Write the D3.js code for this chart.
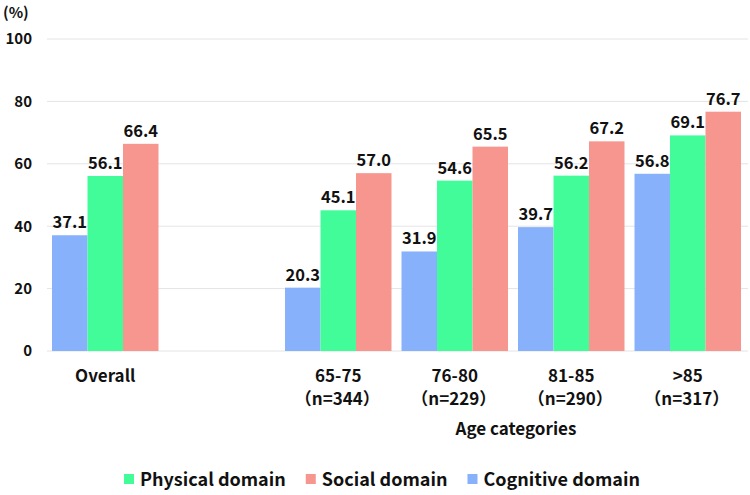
<!DOCTYPE html>
<html>
<head>
<meta charset="utf-8">
<script src="https://cdn.jsdelivr.net/npm/d3@7/dist/d3.min.js"></script>
<style>
  html, body { margin: 0; padding: 0; background: #fff; }
  svg text { font-family: "Noto Sans CJK JP", "Noto Sans", sans-serif; font-weight: bold; fill: #111; }
</style>
</head>
<body>
<svg id="chart" width="750" height="495"></svg>
<script>
const categories = ["Overall", "", "65-75", "76-80", "81-85", ">85"];
const subLabels = ["", "", "（n=344）", "（n=229）", "（n=290）", "（n=317）"];
const seriesNames = ["Cognitive domain", "Physical domain", "Social domain"];
const cognitive = [37.1, null, 20.3, 31.9, 39.7, 56.8];
const physical = [56.1, null, 45.1, 54.6, 56.2, 69.1];
const social = [66.4, null, 57.0, 65.5, 67.2, 76.7];
const yTicks = [0, 20, 40, 60, 80, 100];
const legendOrder = ["Physical domain", "Social domain", "Cognitive domain"];
const colors = {"Cognitive domain": "#87B1FA", "Physical domain": "#42FC9A", "Social domain": "#F7968F"};

const series = [cognitive, physical, social];
const svg = d3.select("#chart");
const margin = {left: 47, right: 4};
const W = 750;

const x = d3.scaleBand().domain(d3.range(categories.length)).range([margin.left, W - margin.right]).paddingInner(0.086).paddingOuter(0.043);
const xs = d3.scaleBand().domain(seriesNames).range([0, x.bandwidth()]);
const y = d3.scaleLinear().domain([0, 100]).range([351, 39]);

// grid
const gy = svg.append("g");
gy.selectAll("line").data(yTicks).join("line")
  .attr("x1", margin.left).attr("x2", 748)
  .attr("y1", d => y(d)).attr("y2", d => y(d))
  .attr("stroke", "#e4e4e4").attr("stroke-width", 1);

// y axis labels
const yAxis = d3.axisLeft(y).tickValues(yTicks).tickSize(0).tickPadding(0);
const ya = svg.append("g").attr("transform", "translate(32,0)").call(yAxis);
ya.select(".domain").remove();
ya.selectAll("text").style("font-size", "15px").attr("fill", "#111")
  .style("font-family", "'Noto Sans CJK JP', sans-serif").style("font-weight", "bold");

svg.append("text").attr("x", 3).attr("y", 18).style("font-size", "15px").text("(%)");

// bars
series.forEach((vals, si) => {
  const name = seriesNames[si];
  const g = svg.append("g");
  const data = vals.map((v, i) => ({v, i})).filter(d => d.v !== null);
  g.selectAll("rect").data(data).join("rect")
    .attr("x", d => x(d.i) + xs(name))
    .attr("width", xs.bandwidth())
    .attr("y", d => y(d.v))
    .attr("height", d => y(0) - y(d.v))
    .attr("fill", colors[name]);
  g.selectAll("text").data(data).join("text")
    .attr("x", d => x(d.i) + xs(name) + xs.bandwidth() / 2)
    .attr("y", d => y(d.v) - 7)
    .attr("text-anchor", "middle")
    .style("font-size", "16.5px")
    .text(d => d.v.toFixed(1));
});

// x labels
const xl = svg.append("g");
categories.forEach((c, i) => {
  if (!c) return;
  xl.append("text").attr("x", x(i) + x.bandwidth() / 2).attr("y", 382)
    .attr("text-anchor", "middle").style("font-size", "17px").text(c);
  if (subLabels[i]) {
    xl.append("text").attr("x", x(i) + x.bandwidth() / 2 - 1).attr("y", 405)
      .attr("text-anchor", "middle").style("font-size", "17px").text(subLabels[i]);
  }
});
svg.append("text").attr("x", 516).attr("y", 435).attr("text-anchor", "middle")
  .style("font-size", "17px").text("Age categories");

// legend (laid out from measured text widths, centred)
const lg = svg.append("g");
const items = legendOrder.map(name => {
  const g = lg.append("g");
  g.append("rect").attr("x", 0).attr("y", -12).attr("width", 10).attr("height", 10).attr("fill", colors[name]);
  const t = g.append("text").attr("x", 16).attr("y", 0).style("font-size", "18px").text(name);
  return {g, w: 16 + t.node().getComputedTextLength()};
});
const gap = 20;
const total = d3.sum(items, d => d.w) + gap * (items.length - 1);
let cx = 382 - total / 2;
items.forEach(it => { it.g.attr("transform", `translate(${cx},486)`); cx += it.w + gap; });
</script>
</body>
</html>
